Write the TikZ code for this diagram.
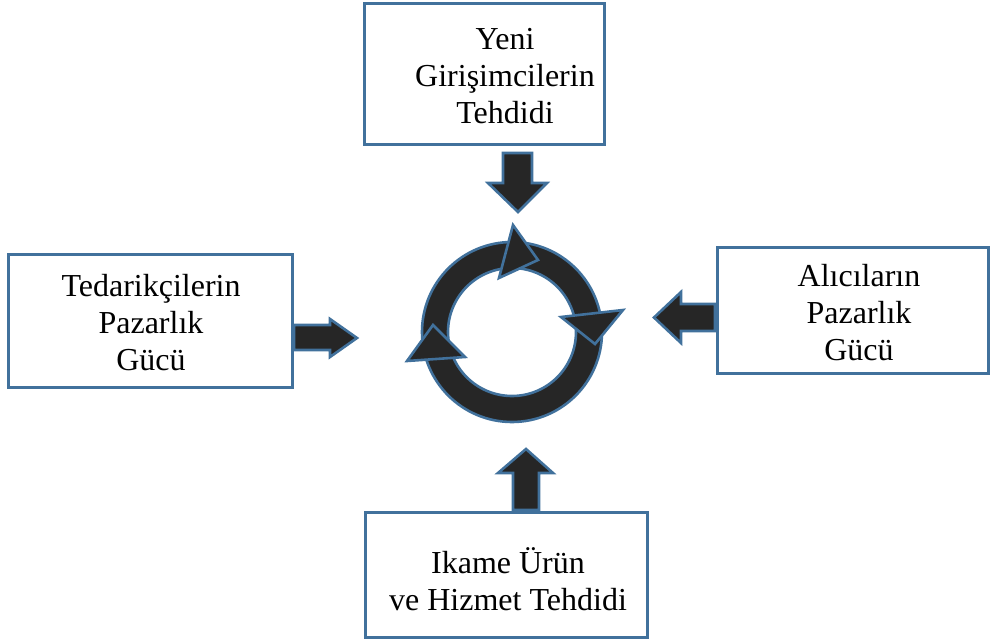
\documentclass[tikz,border=0pt]{standalone}
\usepackage{fontspec}
\setmainfont{Liberation Serif}
\definecolor{bordblue}{RGB}{65,113,156}
\definecolor{darkfill}{RGB}{38,38,38}
\begin{document}
\begin{tikzpicture}[x=1pt,y=-1pt,
  box/.style={draw=bordblue,line width=3pt,inner sep=0pt,fill=white},
  lbl/.style={font=\fontsize{32}{37}\selectfont,align=center,inner sep=0pt,anchor=base},
  blk/.style={fill=darkfill,draw=bordblue,line width=2.6pt,line join=miter}]
\useasboundingbox (0,0) rectangle (993,642);
% boxes
\node[box,minimum width=240pt,minimum height=140pt] (topbox) at (484,74) {};
\node[box,minimum width=284pt,minimum height=133pt] (leftbox) at (150,320.5) {};
\node[box,minimum width=271pt,minimum height=126pt] (rightbox) at (852.5,310) {};
\node[box,minimum width=282pt,minimum height=125pt] (botbox) at (506,574.5) {};
% texts (anchor = baseline of last line)
\node[lbl] (toptext) at (505,123) {Yeni\\Girişimcilerin\\Tehdidi};
\node[lbl] (lefttext) at (151,370) {Tedarikçilerin\\Pazarlık\\Gücü};
\node[lbl] (righttext) at (859,360) {Alıcıların\\Pazarlık\\Gücü};
\node[lbl] (bottext) at (508,610) {Ikame Ürün\\ve Hizmet Tehdidi};
% block arrows
\draw[blk] (503,153) -- (532,153) -- (532,183) -- (547,183) -- (518,212) -- (488,183) -- (503,183) -- cycle;
\draw[blk] (294,325) -- (330,325) -- (330,319) -- (357,338) -- (330,357) -- (330,350) -- (294,350) -- cycle;
\draw[blk] (715,304) -- (681,304) -- (681,292) -- (654,317.5) -- (681,343) -- (681,331) -- (715,331) -- cycle;
\draw[blk] (513,510) -- (513,473) -- (498,473) -- (526,449) -- (553,473) -- (539,473) -- (539,510) -- cycle;
% ring
\coordinate (c) at (512,332);
\draw[blk,even odd rule] (c) circle[radius=90pt] (c) circle[radius=64pt];
\draw[blk] (513,225) -- (538,260) -- (499,278) -- cycle;
\draw[blk] (561,317) -- (623,310) -- (595,344) -- cycle;
\draw[blk] (433,325) -- (465,357) -- (407,361) -- cycle;
\end{tikzpicture}
\end{document}
